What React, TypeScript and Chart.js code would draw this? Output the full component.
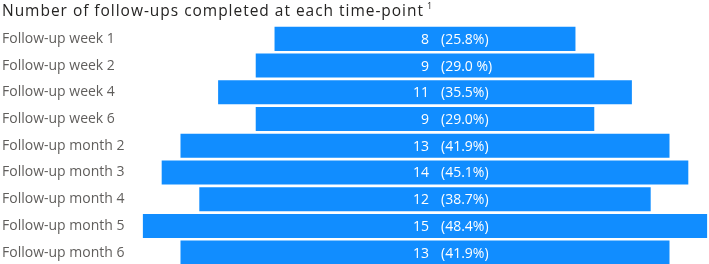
import React, { useEffect, useRef } from "react";
import { Chart, registerables } from "chart.js";

Chart.register(...registerables);

const categories = [
  "Follow-up week 1",
  "Follow-up week 2",
  "Follow-up week 4",
  "Follow-up week 6",
  "Follow-up month 2",
  "Follow-up month 3",
  "Follow-up month 4",
  "Follow-up month 5",
  "Follow-up month 6",
];
const counts = [8, 9, 11, 9, 13, 14, 12, 15, 13];
const percentLabels = ["(25.8%)", "(29.0 %)", "(35.5%)", "(29.0%)", "(41.9%)", "(45.1%)", "(38.7%)", "(48.4%)", "(41.9%)"];
const titleText = "Number of follow-ups completed at each time-point";
const titleSup = "1";

const FONT = "'Open Sans', 'Noto Sans', sans-serif";

export default function App() {
  const ref = useRef<HTMLCanvasElement | null>(null);
  useEffect(() => {
    document.body.style.margin = "0";
    const canvas = ref.current;
    if (!canvas) return;
    const labelPlugin = {
      id: "funnelLabels",
      afterDatasetsDraw(chart: any) {
        const ctx = chart.ctx;
        const xs = chart.scales.x;
        const cx = xs.getPixelForValue(0);
        const meta = chart.getDatasetMeta(0);
        ctx.save();
        ctx.fillStyle = "#ffffff";
        ctx.font = `14px ${FONT}`;
        ctx.textBaseline = "middle";
        meta.data.forEach((bar: any, i: number) => {
          ctx.textAlign = "right";
          ctx.fillText(String(counts[i]), cx + 4, bar.y + 1);
          ctx.textAlign = "left";
          ctx.fillText(percentLabels[i], cx + 16, bar.y + 1);
        });
        ctx.restore();
      },
      afterDraw(chart: any) {
        const ctx = chart.ctx;
        ctx.save();
        ctx.fillStyle = "#252423";
        ctx.font = `15.5px ${FONT}`;
        ctx.textBaseline = "middle";
        ctx.textAlign = "left";
        const base = ctx.measureText(titleText).width;
        const spacing = Math.max(0, (421 - base) / (titleText.length - 1));
        (ctx as any).letterSpacing = `${spacing}px`;
        ctx.fillText(titleText, 2, 12);
        (ctx as any).letterSpacing = "0px";
        ctx.font = `9px ${FONT}`;
        ctx.fillText(titleSup, 427, 6);
        ctx.restore();
      },
    };
    const chart = new Chart(canvas, {
      type: "bar",
      data: {
        labels: categories,
        datasets: [
          {
            data: counts.map((v) => [-v / 2, v / 2]) as any,
            backgroundColor: "#118DFF",
            borderWidth: 0,
            barPercentage: 0.9,
            categoryPercentage: 1,
          },
        ],
      },
      options: {
        indexAxis: "y",
        animation: false,
        responsive: false,
        maintainAspectRatio: false,
        layout: { padding: { top: 25.5, left: 2, right: 0, bottom: 0 } },
        plugins: { legend: { display: false }, tooltip: { enabled: false }, title: { display: false } },
        scales: {
          x: { display: false, min: -7.55, max: 7.55 },
          y: {
            grid: { display: false },
            border: { display: false },
            ticks: { crossAlign: "far", color: "#605E5C", font: { family: FONT, size: 14 }, padding: 0 },
            afterFit(scale: any) {
              scale.width = 139;
              scale.paddingTop = 0;
              scale.paddingBottom = 0;
            },
          },
        },
      },
      plugins: [labelPlugin],
    });
    return () => chart.destroy();
  }, []);
  return (
    <div style={{ width: 709, height: 264, overflow: "hidden" }}>
      <canvas ref={ref} width={709} height={266} style={{ display: "block" }} />
    </div>
  );
}
